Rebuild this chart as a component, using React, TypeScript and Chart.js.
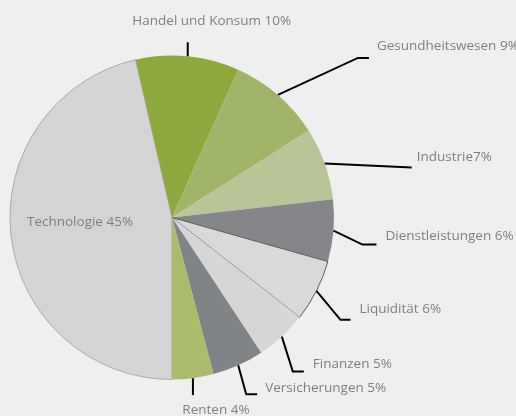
import React, { useEffect, useRef } from "react";
import { Chart, registerables } from "chart.js";

Chart.register(...registerables);

const categories = [
  "Technologie",
  "Handel und Konsum",
  "Gesundheitswesen",
  "Industrie",
  "Dienstleistungen",
  "Liquidität",
  "Finanzen",
  "Versicherungen",
  "Renten",
];
const values = [45, 10, 9, 7, 6, 6, 5, 5, 4];
const labelTexts = [
  "Technologie 45%",
  "Handel und Konsum 10%",
  "Gesundheitswesen 9%",
  "Industrie7%",
  "Dienstleistungen 6%",
  "Liquidität 6%",
  "Finanzen 5%",
  "Versicherungen 5%",
  "Renten 4%",
];
const colors = [
  "#d4d4d4",
  "#8da83d",
  "#a1b56a",
  "#b8c597",
  "#858689",
  "#d9d9d9",
  "#d6d6d6",
  "#818487",
  "#aabb6c",
];
const borderColors = ["#a9a9a9", "#8da83d", "#a1b56a", "#b8c597", "#858689", "#5a5a5a", "#c8c8c8", "#818487", "#aabb6c"];
const borderWidths = [1, 0, 0, 0, 0, 1, 0, 0, 0];

// leader layout: elbow offset from slice edge, tail length, text anchor offset from line end
type Lay = { inside?: boolean; elbow?: [number, number]; tail?: number; text: [number, number]; align: CanvasTextAlign };
const layouts: Lay[] = [
  { inside: true, text: [-92, 5], align: "center" },
  { elbow: [0, -14], tail: 0, text: [24, -21], align: "center" },
  { elbow: [80, -37], tail: 11, text: [8, -12], align: "left" },
  { elbow: [87, 4], tail: 0, text: [5, -10], align: "left" },
  { elbow: [29, 14], tail: 14, text: [9, -8], align: "left" },
  { elbow: [24, 29], tail: 10, text: [9, -11], align: "left" },
  { elbow: [11, 35], tail: 11, text: [9, -7], align: "left" },
  { elbow: [8, 29], tail: 11, text: [8, -6], align: "left" },
  { elbow: [0, 17], tail: 0, text: [23, 15], align: "center" },
];

const labelPlugin = {
  id: "leaderLabels",
  afterDatasetsDraw(chart: any) {
    const ctx = chart.ctx as CanvasRenderingContext2D;
    const meta = chart.getDatasetMeta(0);
    ctx.save();
    ctx.font = '13.5px "Open Sans", sans-serif';
    ctx.fillStyle = "#7f7f7f";
    ctx.textBaseline = "middle";
    meta.data.forEach((arc: any, i: number) => {
      const lay = layouts[i];
      const p = arc.getProps(["x", "y", "startAngle", "endAngle", "outerRadius"], true);
      const mid = (p.startAngle + p.endAngle) / 2;
      const sx = p.x + Math.cos(mid) * p.outerRadius;
      const sy = p.y + Math.sin(mid) * p.outerRadius;
      if (lay.inside) {
        ctx.textAlign = lay.align;
        ctx.fillText(labelTexts[i], p.x + lay.text[0], p.y + lay.text[1]);
        return;
      }
      const ex = sx + lay.elbow![0];
      const ey = sy + lay.elbow![1];
      const tx = ex + (lay.tail || 0);
      ctx.strokeStyle = "#000";
      ctx.lineWidth = 2;
      ctx.beginPath();
      ctx.moveTo(sx, sy);
      ctx.lineTo(ex, ey);
      if (lay.tail) ctx.lineTo(tx, ey);
      ctx.stroke();
      ctx.textAlign = lay.align;
      ctx.fillText(labelTexts[i], tx + lay.text[0], ey + lay.text[1]);
    });
    ctx.restore();
  },
};

export default function App() {
  const ref = useRef<HTMLCanvasElement>(null);
  useEffect(() => {
    document.body.style.margin = "0";
    document.body.style.background = "#efefef";
    const chart = new Chart(ref.current!, {
      type: "pie",
      data: {
        labels: categories,
        datasets: [
          {
            data: values,
            backgroundColor: colors,
            borderColor: borderColors,
            borderWidth: borderWidths,
          },
        ],
      },
      options: {
        animation: false,
        responsive: false,
        rotation: 180,
        layout: { padding: { left: 9, top: 55, right: 181, bottom: 36 } },
        plugins: { legend: { display: false }, tooltip: { enabled: false } },
      },
      plugins: [labelPlugin],
    });
    return () => chart.destroy();
  }, []);
  return (
    <div style={{ width: 516, height: 416, background: "#efefef" }}>
      <canvas ref={ref} width={516} height={416} style={{ display: "block" }} />
    </div>
  );
}
